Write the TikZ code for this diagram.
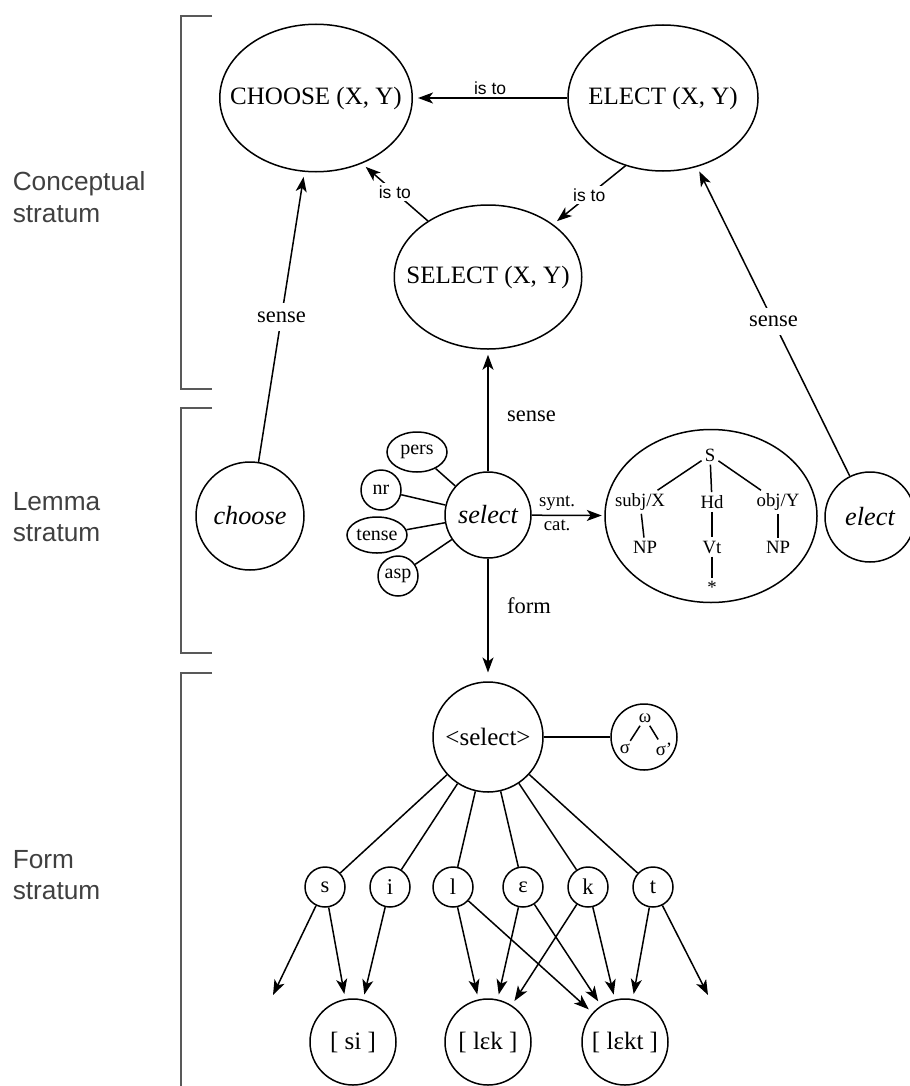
\documentclass[tikz,border=0pt]{standalone}
\usepackage{fontspec}
\setmainfont{Liberation Serif}
\setsansfont{Liberation Sans}
\usetikzlibrary{positioning,arrows.meta,shapes.geometric}

\begin{document}
\begin{tikzpicture}[
    x=0.4pt, y=-0.4pt, line width=0.6pt,
    concept/.style={ellipse, draw, inner sep=0pt, label={[font=\fontsize{10}{12}\selectfont]center:#1}},
    lemma/.style={circle, draw, inner sep=0pt, font=\fontsize{10.5}{12}\selectfont\itshape},
    feat/.style={ellipse, draw, inner sep=0pt, font=\fontsize{8}{9}\selectfont},
    tree/.style={inner sep=1pt, font=\fontsize{7.5}{8}\selectfont},
    seg/.style={circle, draw, inner sep=0pt, minimum size=16pt, font=\fontsize{9}{10}\selectfont},
    syll/.style={circle, draw, inner sep=0pt, minimum size=34.4pt, font=\fontsize{10}{12}\selectfont},
    arrow/.style={-{Stealth[length=6pt,width=4.4pt,inset=1.6pt]}, shorten >=2pt},
    rel/.style={font=\sffamily\fontsize{7}{8}\selectfont, fill=white, inner sep=1pt},
    lab/.style={font=\fontsize{9}{10}\selectfont},
    stratum/.style={font=\sffamily\fontsize{10.5}{12.5}\selectfont, align=left, anchor=west, inner sep=0pt, text=black!75},
    bracket/.style={draw=black!65, line width=0.8pt}
]
\useasboundingbox (0,0) rectangle (909,1086);

% Strata
\draw[bracket] (212,16) -- (181,16) -- (181,389) -- (212,389);
\draw[bracket] (212,408) -- (181,408) -- (181,653) -- (212,653);
\draw[bracket] (212,673) -- (181,673) -- (181,1100);
\node[stratum] (conclab) at (12,197) {Conceptual\\stratum};
\node[stratum] (lemlab) at (12,517) {Lemma\\stratum};
\node[stratum] (formlab) at (12,875) {Form\\stratum};

% Concepts
\node[concept={CHOOSE (X, Y)}, minimum width=77pt, minimum height=59pt] (choosecon) at (316,98) {};
\node[concept={ELECT (X, Y)}, minimum width=76pt, minimum height=58.4pt] (electcon) at (663,98) {};
\node[concept={SELECT (X, Y)}, minimum width=75pt, minimum height=57.6pt] (selectcon) at (488,277) {};

% Lemmas
\node[lemma, minimum size=43.2pt] (chooselem) at (250,516) {choose};
\node[lemma, minimum size=34.4pt] (selectlem) at (488,515) {select};
\node[lemma, minimum size=36pt] (electlem) at (870,517) {elect};
\node[feat, minimum width=24pt, minimum height=16pt] (pers) at (417,452) {pers};
\node[feat, circle, minimum size=16pt] (nr) at (381,490) {nr};
\node[feat, minimum width=24pt, minimum height=14.4pt] (tense) at (377,535) {tense};
\node[feat, circle, minimum size=16pt] (asp) at (398,576) {asp};

% Syntactic frame
\node[ellipse, draw, minimum width=84.8pt, minimum height=69.2pt] (syn) at (711,516) {};
\node[tree] (S) at (710,455) {S};
\node[tree] (subjX) at (640,502) {subj/X};
\node[tree] (Hd) at (712,502) {Hd};
\node[tree] (objY) at (778,502) {obj/Y};
\node[tree] (NPa) at (645,547) {NP};
\node[tree] (Vt) at (712,547) {Vt};
\node[tree] (NPb) at (778,547) {NP};
\node[tree] (star) at (712,587) {*};

% Form
\node[circle, draw, inner sep=0pt, minimum size=44pt, font=\fontsize{10}{12}\selectfont] (formsel) at (488,737) {<select>};
\node[circle, draw, minimum size=26.4pt] (syllab) at (644,737) {};
\node[tree] (om) at (645,718) {ω};
\node[tree] (sga) at (625,749) {σ};
\node[tree] (sgb) at (664,749) {σ’};

\node[seg] (s) at (325,887) {s};
\node[seg] (i) at (390,887) {i};
\node[seg] (l) at (453,887) {l};
\node[seg] (eps) at (523,887) {ɛ};
\node[seg] (k) at (588,887) {k};
\node[seg] (t) at (653,887) {t};

\node[syll] (si) at (353,1042) {[ si ]};
\node[syll] (lek) at (488,1042) {[ lɛk ]};
\node[syll] (lekt) at (625,1042) {[ lɛkt ]};
\coordinate (sout) at (273,995);
\coordinate (tout) at (708,995);

% Arrows
\draw[arrow] (electcon) -- node[rel, above, fill=none] {is to} (choosecon);
\draw[arrow] (selectcon.137) -- node[rel] {is to} (choosecon.-55);
\draw[arrow] (electcon.-119) -- node[rel] {is to} (selectcon.39);
\draw[arrow] (chooselem) -- node[lab, fill=white] {sense} (choosecon);
\draw[arrow] (electlem) -- node[lab, fill=white] {sense} (electcon);
\draw[arrow] (selectlem) -- node[lab, right, pos=0.45, xshift=4pt] {sense} (selectcon);
\draw[arrow, shorten >=3.5pt] (selectlem) -- node[lab, right, pos=0.38, xshift=4pt] {form} (formsel);
\draw[arrow, shorten >=1pt] (selectlem) -- node[font=\fontsize{7.5}{8}\selectfont, above, pos=0.35, inner sep=1.5pt] {synt.}
    node[font=\fontsize{7.5}{8}\selectfont, below, pos=0.35, inner sep=1.5pt] {cat.} (syn);
\draw (pers) -- (selectlem);
\draw (nr) -- (selectlem);
\draw (tense) -- (selectlem);
\draw (asp) -- (selectlem);

\draw (S) -- (subjX);
\draw (S) -- (Hd);
\draw (S) -- (objY);
\draw (subjX) -- (NPa);
\draw (Hd) -- (Vt);
\draw (Vt) -- (star);
\draw (objY) -- (NPb);

\draw (formsel) -- (syllab);
\draw (om) -- (sga);
\draw (om) -- (sgb);
\draw (formsel) -- (s);
\draw (formsel) -- (i);
\draw (formsel) -- (l);
\draw (formsel) -- (eps);
\draw (formsel) -- (k);
\draw (formsel) -- (t);

\draw[arrow, shorten >=0pt] (s) -- (sout);
\draw[arrow] (s) -- (si);
\draw[arrow] (i) -- (si);
\draw[arrow] (l) -- (lek);
\draw[arrow] (l) -- (lekt);
\draw[arrow] (eps) -- (lek);
\draw[arrow] (eps) -- (lekt);
\draw[arrow] (k) -- (lek);
\draw[arrow] (k) -- (lekt);
\draw[arrow] (t) -- (lekt);
\draw[arrow, shorten >=0pt] (t) -- (tout);

\end{tikzpicture}
\end{document}
